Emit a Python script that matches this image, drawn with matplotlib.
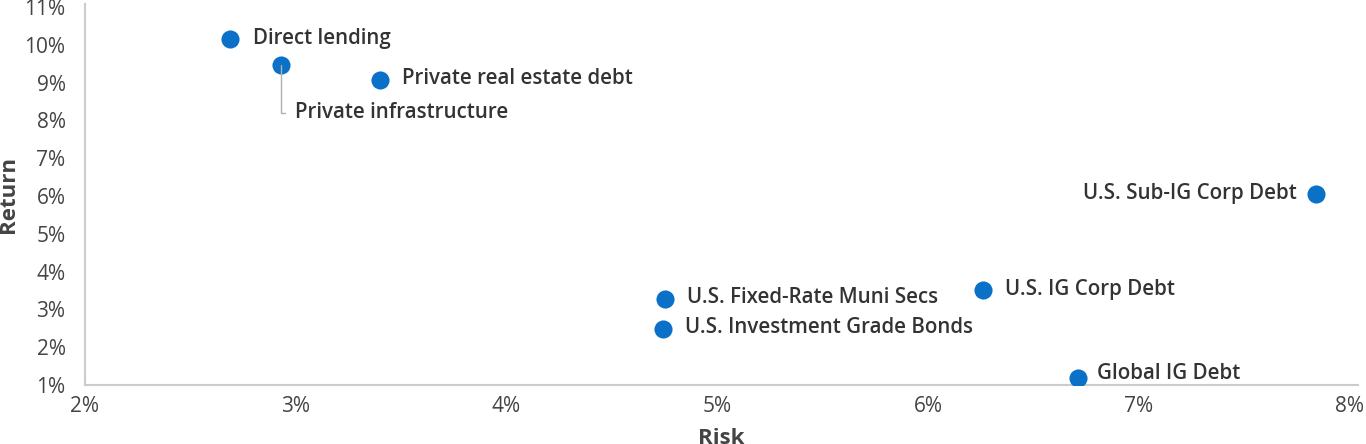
import matplotlib.pyplot as plt
from matplotlib.ticker import FuncFormatter

names = ['Direct lending', 'Private infrastructure', 'Private real estate debt',
         'U.S. Sub-IG Corp Debt', 'U.S. Fixed-Rate Muni Secs', 'U.S. IG Corp Debt',
         'U.S. Investment Grade Bonds', 'Global IG Debt']
risk = [2.69, 2.93, 3.40, 7.84, 4.75, 6.26, 4.74, 6.71]
ret = [10.15, 9.47, 9.07, 6.05, 3.28, 3.51, 2.49, 1.18]

x_ticks = [2, 3, 4, 5, 6, 7, 8]
y_ticks = [1, 2, 3, 4, 5, 6, 7, 8, 9, 10, 11]

# label placement (pixels), per point
label_pos = {
    'Direct lending': (23, 1, 'left'),
    'Private infrastructure': (14, -48, 'left'),
    'Private real estate debt': (22, 1, 'left'),
    'U.S. Sub-IG Corp Debt': (-19, 1, 'right'),
    'U.S. Fixed-Rate Muni Secs': (22, 1, 'left'),
    'U.S. IG Corp Debt': (22, 1, 'left'),
    'U.S. Investment Grade Bonds': (22, 1, 'left'),
    'Global IG Debt': (19, 5, 'left'),
}

plt.rcParams['font.family'] = ['Open Sans', 'DejaVu Sans']

fig = plt.figure(figsize=(13.66, 4.44), dpi=100)
ax = fig.add_axes([0.0622, 0.133, 0.932, 0.858])

ax.scatter(risk, ret, s=170, color='#0a70c8', zorder=3, linewidths=0)

for n, x, y in zip(names, risk, ret):
    dx, dy, ha = label_pos[n]
    if n == 'Private infrastructure':
        ax.annotate(n, xy=(x, y), xytext=(dx, dy), textcoords='offset pixels',
                    ha=ha, va='center', fontsize=14.8, fontweight='semibold', color='#333333',
                    arrowprops=dict(arrowstyle='-', color='#b0b0b0', lw=1,
                                    connectionstyle='angle,angleA=180,angleB=90,rad=0',
                                    shrinkA=5, shrinkB=0))
    else:
        ax.annotate(n, xy=(x, y), xytext=(dx, dy), textcoords='offset pixels',
                    ha=ha, va='center', fontsize=14.8, fontweight='semibold', color='#333333')

ax.set_xlim(2, 8.04)
ax.set_ylim(1, 11.08)
ax.set_xticks(x_ticks)
ax.set_yticks(y_ticks)
pct = FuncFormatter(lambda v, p: f'{v:.0f}%')
ax.xaxis.set_major_formatter(pct)
ax.yaxis.set_major_formatter(pct)
ax.tick_params(length=0, labelsize=15, labelcolor='#444444', pad=8)
ax.tick_params(axis='y', pad=14)

for s in ['top', 'right']:
    ax.spines[s].set_visible(False)
for s in ['left', 'bottom']:
    ax.spines[s].set_color('#cccccc')
    ax.spines[s].set_linewidth(1.5)

ax.set_xlabel('Risk', fontsize=16, fontweight='bold', color='#444444', labelpad=8)
ax.set_ylabel('Return', fontsize=16, fontweight='bold', color='#444444', labelpad=4)

fig.savefig('out.png', dpi=100)
